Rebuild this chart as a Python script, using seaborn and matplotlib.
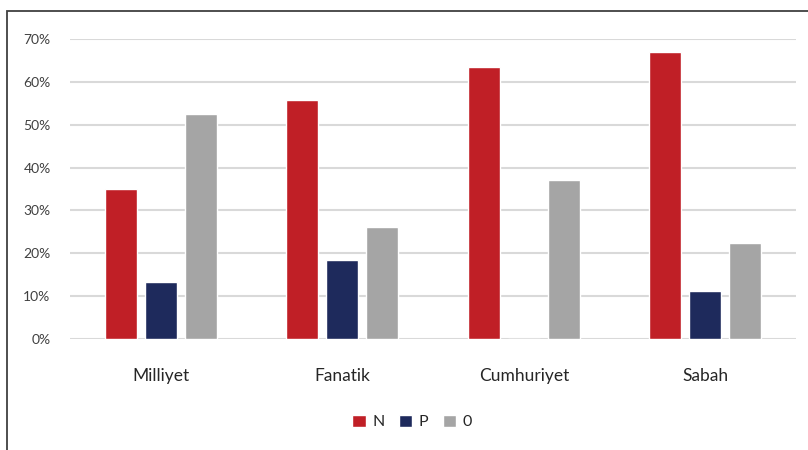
import matplotlib
matplotlib.use("Agg")
import matplotlib.pyplot as plt
import pandas as pd
import seaborn as sns
from matplotlib.patches import Rectangle
from matplotlib.ticker import PercentFormatter

papers = ["Milliyet", "Fanatik", "Cumhuriyet", "Sabah"]
series = ["N", "P", "0"]
n_vals = [35.0, 55.7, 63.4, 66.9]
p_vals = [13.2, 18.5, 0.0, 11.2]
zero_vals = [52.4, 26.1, 37.0, 22.3]
colors = ["#c01f26", "#1e2a5c", "#a5a5a5"]

df = pd.DataFrame({
    "paper": papers * 3,
    "series": [s for s in series for _ in papers],
    "value": n_vals + p_vals + zero_vals,
})

sns.set_theme(style="white")
plt.rcParams["font.family"] = ["Lato", "DejaVu Sans"]

fig = plt.figure(figsize=(8.08, 4.5), dpi=100)
ax = fig.add_axes([70 / 808, 1 - 339 / 450, 726 / 808, 300 / 450])

sns.barplot(data=df, x="paper", y="value", hue="series", hue_order=series,
            palette=colors, width=0.66, gap=0.2, saturation=1, ax=ax,
            legend=True, zorder=3)

ax.set_ylim(0, 70)
ax.set_yticks(range(0, 71, 10))
ax.yaxis.set_major_formatter(PercentFormatter(decimals=0))
ax.grid(axis="y", color="#d9d9d9", linewidth=1.5, zorder=0)
ax.set_axisbelow(True)
for s in ax.spines.values():
    s.set_visible(False)
ax.set_xlabel("")
ax.set_ylabel("")
ax.tick_params(axis="y", labelsize=10, colors="#404040", pad=14, length=0)
ax.tick_params(axis="x", labelsize=12.5, colors="#262626", pad=21, length=0)

handles, labels = ax.get_legend_handles_labels()
ax.legend(handles, labels, loc="center", bbox_to_anchor=(412 / 808, 1 - 422 / 450),
          bbox_transform=fig.transFigure, ncol=3, frameon=False, fontsize=11.5,
          handlelength=0.85, handleheight=0.85, handletextpad=0.4, columnspacing=0.9,
          labelcolor="#262626")

# outer frame (only left and top edges visible in the crop)
fig.patches.append(Rectangle((7 / 808, -0.1), 1.2, 1 - 11 / 450 + 0.1,
                             transform=fig.transFigure, fill=False,
                             edgecolor="#404040", linewidth=1.3))

fig.savefig("out.png", dpi=100)
